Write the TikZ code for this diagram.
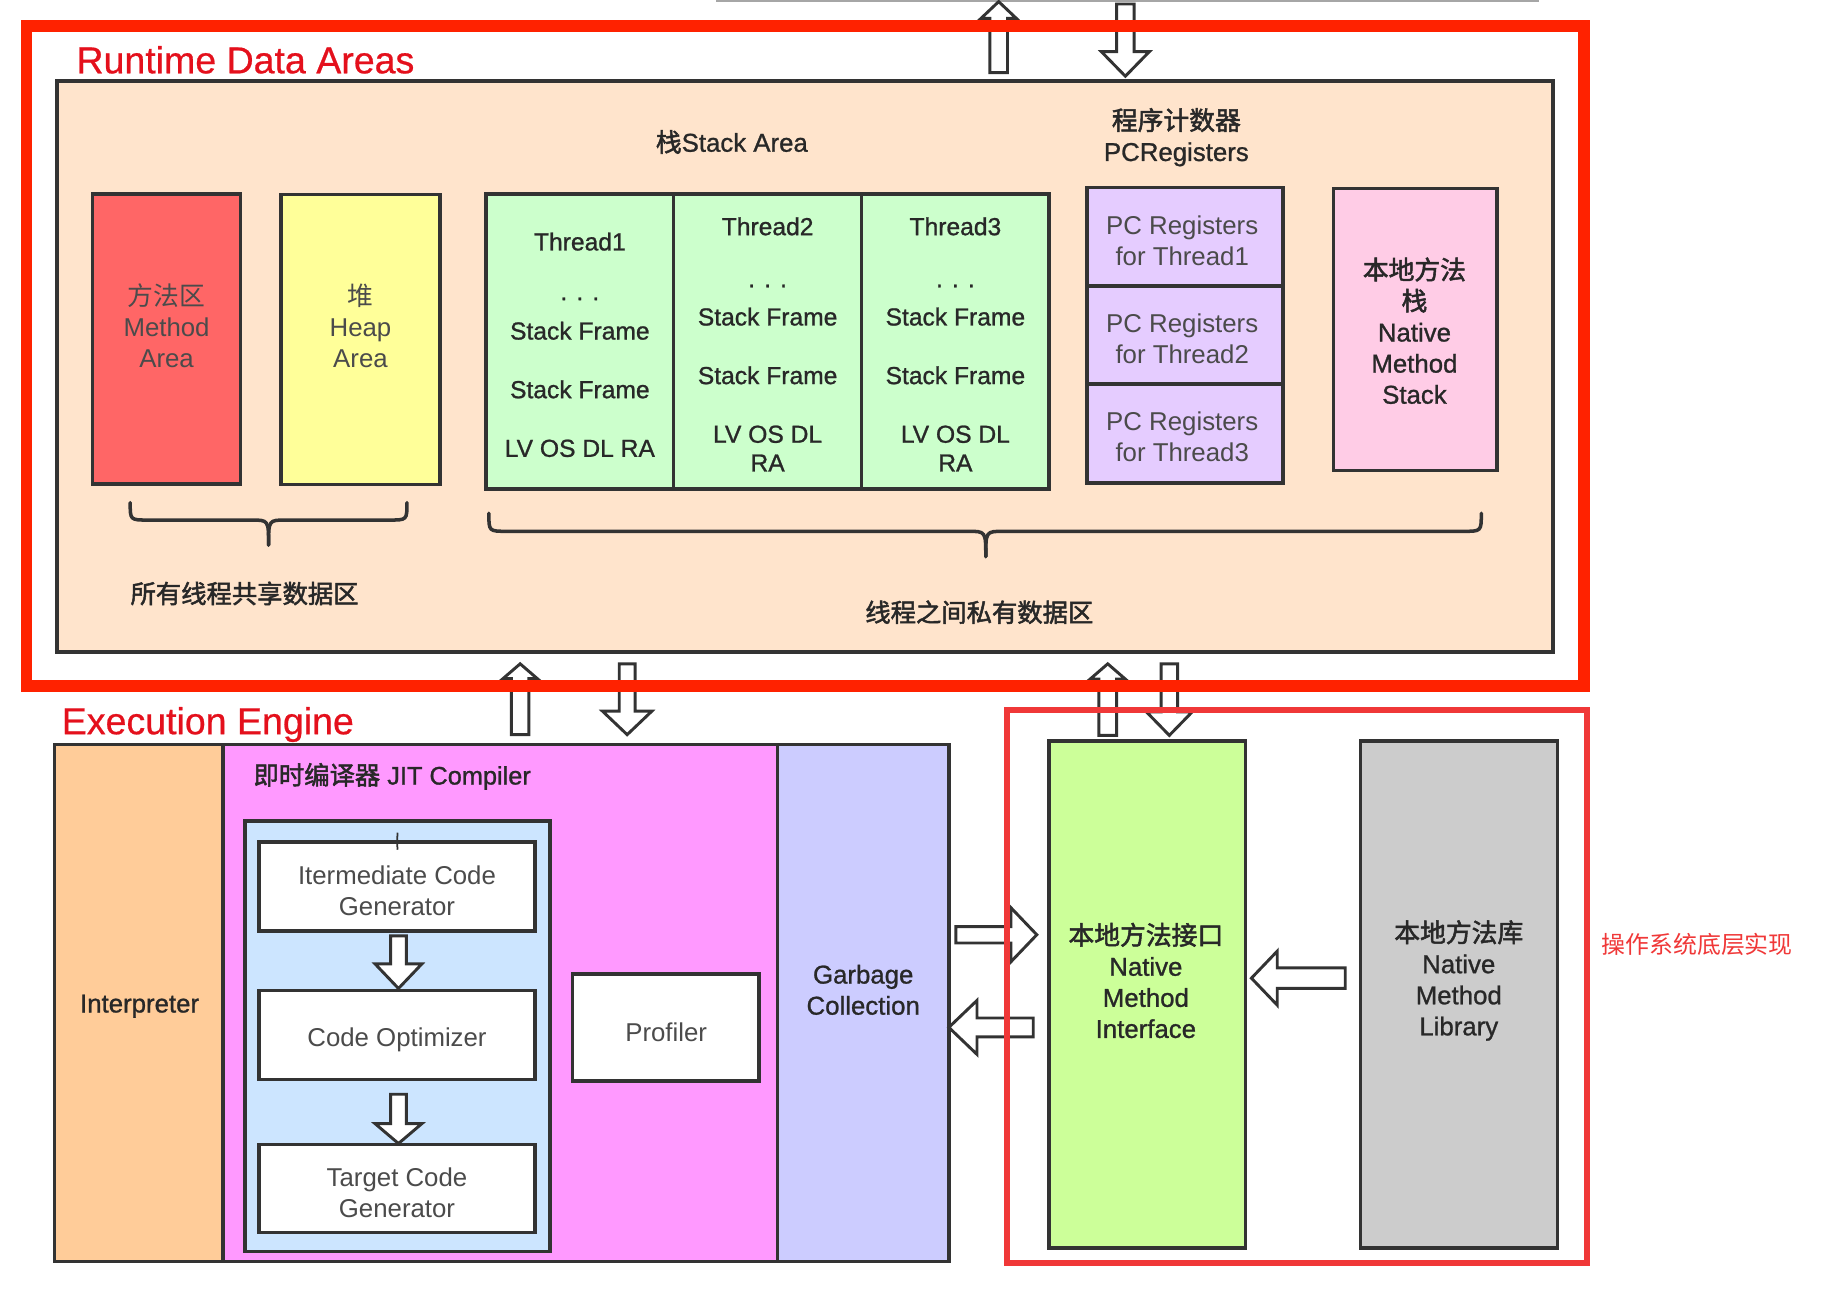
\documentclass[tikz,border=0pt]{standalone}
\usepackage{fontspec}
\setmainfont{Liberation Sans}
\newfontfamily\cjk{Noto Sans CJK SC}
\newfontfamily\cjkb[FakeBold=2]{Noto Sans CJK SC}
\newfontfamily\lsmed[FakeBold=1]{Liberation Sans}
\newfontfamily\lstitle[FakeBold=0.6]{Liberation Sans}
\definecolor{bd}{RGB}{51,51,51}
\definecolor{txd}{RGB}{40,40,40}
\definecolor{txl}{RGB}{75,75,75}
\definecolor{frA}{RGB}{255,34,0}
\definecolor{frB}{RGB}{240,56,56}
\definecolor{titred}{RGB}{228,16,28}
\definecolor{cpeach}{RGB}{255,228,204}
\definecolor{cmeth}{RGB}{255,102,102}
\definecolor{cheap}{RGB}{255,255,153}
\definecolor{cthr}{RGB}{204,255,204}
\definecolor{cpc}{RGB}{229,204,255}
\definecolor{cpink}{RGB}{255,204,230}
\definecolor{cint}{RGB}{255,204,153}
\definecolor{cjit}{RGB}{255,153,255}
\definecolor{cblue}{RGB}{204,229,255}
\definecolor{cgc}{RGB}{204,204,255}
\definecolor{cnmi}{RGB}{204,255,153}
\definecolor{clib}{RGB}{204,204,204}
\tikzset{
  box/.style={draw=bd, line width=3pt, inner sep=0pt, outer sep=0pt},
  med/.style={text=txd, align=center, inner sep=0pt, font=\fontsize{22}{26.5}\selectfont\lsmed},
  lite/.style={text=txl, align=center, inner sep=0pt, font=\fontsize{22}{26.5}\selectfont},
  thr/.style={text=txd, inner sep=0pt, anchor=base, font=\fontsize{21}{25}\selectfont\lsmed},
  harr/.style={draw=bd, line width=2.5pt, fill=white, line join=miter},
  brc/.style={draw=bd, line width=3pt, line cap=round},
  title/.style={text=titred, inner sep=0pt, anchor=base west, font=\fontsize{32}{32}\selectfont\lstitle},
}
% #1 tail coordinate, #2 angle, #3 length, #4 shaft half width, #5 head half width, #6 head length
\newcommand\blkarrow[6]{%
  \draw[harr, shift={(#1)}, rotate=#2] (0,-#4) -- ({#3-#6},-#4) -- ({#3-#6},-#5) -- (#3,0)
    -- ({#3-#6},#5) -- ({#3-#6},#4) -- (0,#4) -- cycle;}
\begin{document}
\begin{tikzpicture}[x=1pt, y=-1pt]
\useasboundingbox (0,0) rectangle (1568,1113);
\fill[white] (0,0) rectangle (1568,1113);
\draw[gray!70, line width=1.5pt] (610.5,0.8) -- (1312,0.8);

% ---------- Runtime data areas ----------
\node[box, line width=3.5pt, fill=cpeach, minimum width=1275.5pt, minimum height=486.7pt] (peach) at (686.25,312.35) {};
\node[title] (rdatitle) at (65,62.5) {Runtime Data Areas};

\node[box, fill=cmeth, minimum width=126pt, minimum height=247pt] (meth) at (142,289.1) {};
\node[lite] (methtx) at (142,278) {{\cjk 方法区}\\Method\\Area};
\node[box, fill=cheap, minimum width=135.3pt, minimum height=247pt] (heap) at (307.35,289.5) {};
\node[lite] (heaptx) at (307.35,278) {{\cjk 堆}\\Heap\\Area};

\node[box, fill=cthr, minimum width=160pt, minimum height=251.5pt] (th1) at (494.4,291.25) {};
\node[box, fill=cthr, minimum width=160.2pt, minimum height=251.5pt] (th2) at (654.5,291.25) {};
\node[box, fill=cthr, minimum width=160pt, minimum height=251.5pt] (th3) at (814.6,291.25) {};
\node[med] (stacktx) at (624,121) {{\cjkb 栈}Stack Area};

\node[thr] (t1a) at (494.4,213.5) {Thread1};
\node[thr] (t1b) at (494.4,256) {. . .};
\node[thr] (t1c) at (494.4,289.5) {Stack Frame};
\node[thr] (t1d) at (494.4,339.5) {Stack Frame};
\node[thr] (t1e) at (494.4,389.5) {LV OS DL RA};

\node[thr] (t2a) at (654.5,200.5) {Thread2};
\node[thr] (t2b) at (654.5,245) {. . .};
\node[thr] (t2c) at (654.5,277.5) {Stack Frame};
\node[thr] (t2d) at (654.5,327.5) {Stack Frame};
\node[thr] (t2e) at (654.5,377.5) {LV OS DL};
\node[thr] (t2f) at (654.5,402) {RA};

\node[thr] (t3a) at (814.6,200.5) {Thread3};
\node[thr] (t3b) at (814.6,245) {. . .};
\node[thr] (t3c) at (814.6,277.5) {Stack Frame};
\node[thr] (t3d) at (814.6,327.5) {Stack Frame};
\node[thr] (t3e) at (814.6,377.5) {LV OS DL};
\node[thr] (t3f) at (814.6,402) {RA};

\node[med] (pctitle) at (1003,117) {{\cjkb 程序计数器}\\PCRegisters};
\node[box, fill=cpc, minimum width=166.7pt, minimum height=84.2pt] (pc1) at (1010.35,201.8) {};
\node[box, fill=cpc, minimum width=166.7pt, minimum height=83.5pt] (pc2) at (1010.35,285.65) {};
\node[box, fill=cpc, minimum width=166.7pt, minimum height=84.6pt] (pc3) at (1010.35,369.7) {};
\node[lite] (pc1tx) at (1008,205) {PC Registers\\for Thread1};
\node[lite] (pc2tx) at (1008,288.5) {PC Registers\\for Thread2};
\node[lite] (pc3tx) at (1008,372.5) {PC Registers\\for Thread3};

\node[box, fill=cpink, minimum width=139.5pt, minimum height=240.7pt] (nms) at (1206.75,280.95) {};
\node[med] (nmstx) at (1206,282) {{\cjkb 本地方法}\\{\cjkb 栈}\\Native\\Method\\Stack};

% braces
\draw[brc] (111,428.6) .. controls (111,443.4) and (111,443.4) .. (126,443.4) -- (214,443.4)
  .. controls (229,443.4) and (229,443.4) .. (229,464.8);
\draw[brc] (347,428.6) .. controls (347,443.4) and (347,443.4) .. (332,443.4) -- (244,443.4)
  .. controls (229,443.4) and (229,443.4) .. (229,464.8);
\draw[brc] (416.8,437.6) .. controls (416.8,453) and (416.8,453) .. (432,453) -- (825,453)
  .. controls (840.5,453) and (840.5,453) .. (840.5,474.6);
\draw[brc] (1263,437.6) .. controls (1263,453) and (1263,453) .. (1248,453) -- (856,453)
  .. controls (840.5,453) and (840.5,453) .. (840.5,474.6);
\node[text=txd, inner sep=0pt, font=\fontsize{21.6}{26}\selectfont\cjkb] (sharedtx) at (208.5,506) {所有线程共享数据区};
\node[text=txd, inner sep=0pt, font=\fontsize{21.6}{26}\selectfont\cjkb] (privtx) at (835,522) {线程之间私有数据区};

% ---------- Execution engine ----------
\node[title] (eetitle) at (52.5,626) {Execution Engine};
\node[box, fill=cint, minimum width=143.5pt, minimum height=441pt] (interp) at (118.25,855.1) {};
\node[med] (interptx) at (119,858) {Interpreter};
\node[box, fill=cjit, minimum width=473pt, minimum height=441pt] (jit) at (426.5,855.1) {};
\node[inner sep=0pt, anchor=west, text=txd, font=\fontsize{21.6}{26}\selectfont\lsmed] (jittx) at (216,662) {{\cjkb 即时编译器} JIT Compiler};
\node[box, fill=cgc, minimum width=146pt, minimum height=441pt] (gc) at (736,855.1) {};
\node[med] (gctx) at (736,844) {Garbage\\Collection};

\node[box, fill=cblue, minimum width=260pt, minimum height=367pt] (blue) at (339,883.5) {};
\node[box, fill=white, minimum width=235pt, minimum height=76pt] (icg) at (338.5,756) {};
\node[lite] (icgtx) at (338.5,759.5) {Itermediate Code\\Generator};
\draw[bd, line width=1.5pt] (339,710) -- (icg.north) -- (339,724.5);
\node[box, fill=white, minimum width=235pt, minimum height=76pt] (opt) at (338.5,882.55) {};
\node[lite] (opttx) at (338.5,887) {Code Optimizer};
\node[box, fill=white, minimum width=235pt, minimum height=75.2pt] (tcg) at (338.5,1013.4) {};
\node[lite] (tcgtx) at (338.5,1017) {Target Code\\Generator};
\node[box, fill=white, minimum width=159pt, minimum height=91pt] (prof) at (567.5,876) {};
\node[lite] (proftx) at (568,880) {Profiler};

% ---------- Native ----------
\node[box, fill=cnmi, minimum width=167.5pt, minimum height=432pt] (nmi) at (978.25,848) {};
\node[med] (nmitx) at (977,836) {{\cjkb 本地方法接口}\\Native\\Method\\Interface};
\node[box, fill=clib, minimum width=168pt, minimum height=432pt] (lib) at (1244,848) {};
\node[med] (libtx) at (1243.8,836) {{\cjkb 本地方法库}\\Native\\Method\\Library};
\node[text=frB, inner sep=0pt, font=\fontsize{20.4}{24}\selectfont\cjk] (ostx) at (1447,805) {操作系统底层实现};

% ---------- block arrows ----------
\coordinate (aA) at (851.5,62);
\coordinate (aB) at (959.5,3.4);
\coordinate (aC) at (443.5,626.4);
\coordinate (aD) at (534.75,566);
\coordinate (aE) at (944.5,627);
\coordinate (aF) at (997,566);
\coordinate (aG) at (815,797);
\coordinate (aH) at (881,876);
\coordinate (aI) at (1147,834);
\coordinate (aJ) at (339.75,798);
\coordinate (aK) at (339.75,933);
\blkarrow{aA}{90}{60.6}{7.5}{15}{14.2}
\blkarrow{aB}{-90}{61.6}{7.5}{20.5}{21}
\blkarrow{aC}{90}{60.4}{7.5}{14.5}{12.5}
\blkarrow{aD}{-90}{60.4}{6.75}{21}{20}
\blkarrow{aE}{90}{61}{7.5}{15}{13}
\blkarrow{aF}{-90}{61}{7}{19.5}{20}
\blkarrow{aG}{0}{69}{7}{23}{22}
\blkarrow{aH}{180}{72}{8}{23}{24}
\blkarrow{aI}{180}{80}{8.75}{23}{22}
\blkarrow{aJ}{-90}{44.8}{6.75}{20}{21}
\blkarrow{aK}{-90}{42}{6.75}{20}{17}

% ---------- red annotation frames ----------
\node[draw=frA, line width=10pt, inner sep=0pt, minimum width=1328pt, minimum height=563pt] (rdaframe) at (686.5,303.5) {};
\node[draw=frB, line width=5pt, inner sep=0pt, minimum width=494.4pt, minimum height=471.4pt] (osframe) at (1105.8,841.3) {};
\end{tikzpicture}
\end{document}
